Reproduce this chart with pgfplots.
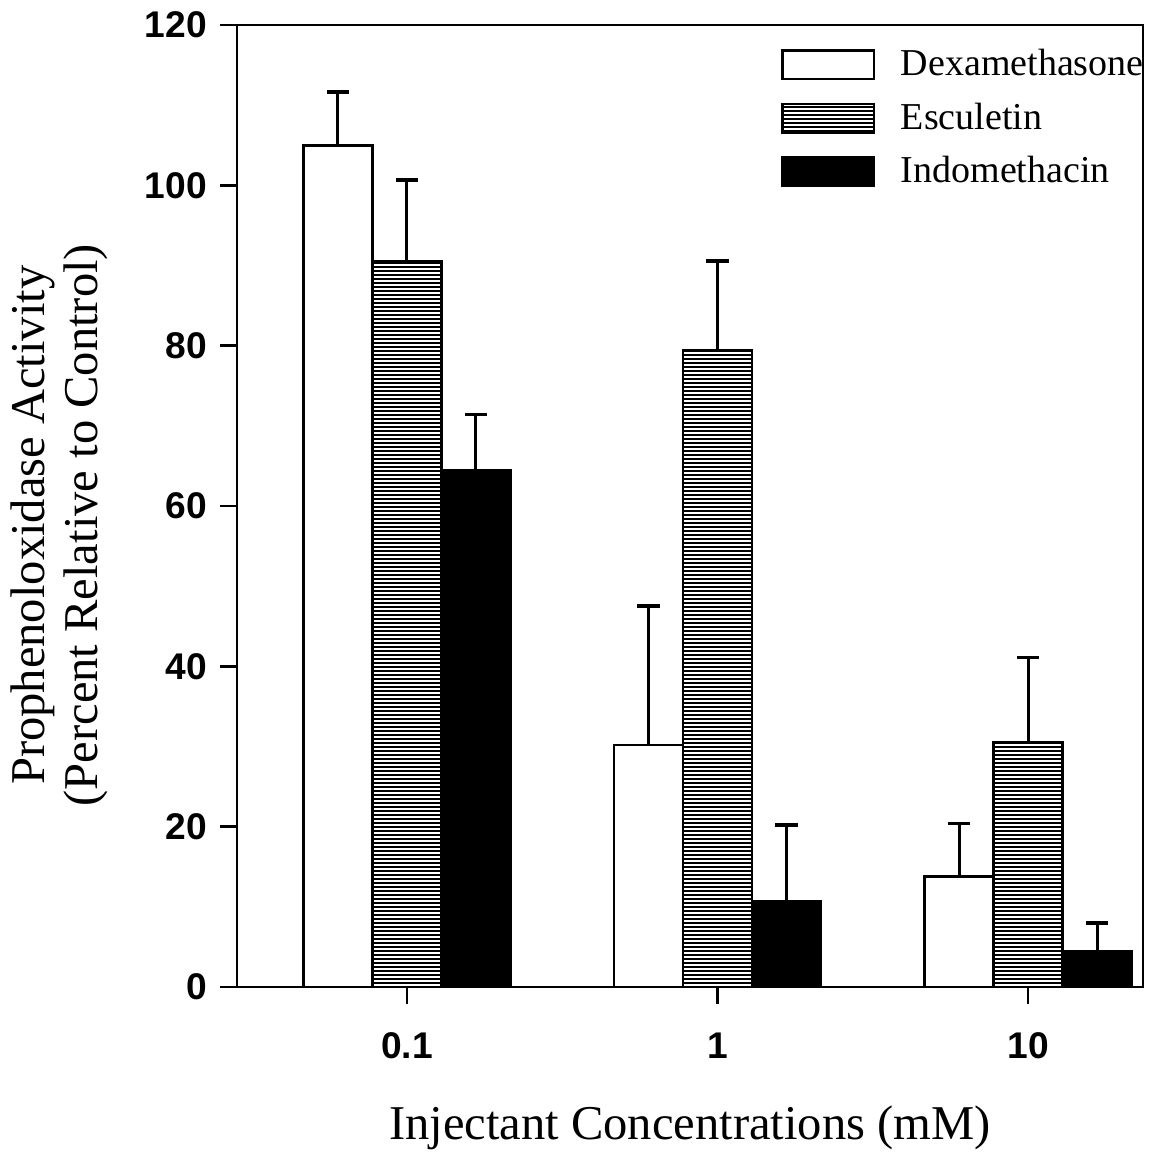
\documentclass[border=0pt]{standalone}
\usepackage{pgfplots}
\pgfplotsset{compat=1.18}
\usepackage{fontspec}
\setmainfont{Liberation Serif}
\setsansfont{Liberation Sans}
\usetikzlibrary{patterns}
\pgfdeclarepatternformonly{densehlines}{\pgfpoint{-1pt}{0pt}}{\pgfpoint{5pt}{1.4pt}}{\pgfpoint{4pt}{1.4pt}}{%
  \pgfsetlinewidth{0.65pt}%
  \pgfpathmoveto{\pgfpoint{-1pt}{0.7pt}}%
  \pgfpathlineto{\pgfpoint{5pt}{0.7pt}}%
  \pgfusepath{stroke}}
\pgfplotstableread{
x  dex  dexe  esc  esce  ind  inde
0  105.0 6.6  90.5 10.2 64.5 6.9
1  30.2  17.3 79.4 11.2 10.7 9.5
2  13.8  6.6  30.5 10.6 4.4  3.6
}\datatable
\begin{document}
\begin{tikzpicture}
\useasboundingbox (-82.95pt,-58.1pt) rectangle (326.55pt,345.45pt);
\begin{axis}[
  at={(0,0)}, anchor=south west,
  scale only axis,
  width=317.1pt, height=336.7pt,
  xmin=-0.547, xmax=2.37,
  ymin=0, ymax=120,
  ytick={0,20,...,120},
  xtick={0,1,2},
  xticklabels={0.1,1,10},
  xtick pos=lower, ytick pos=left,
  tick align=outside,
  major tick length=6pt,
  tick style={line width=0.9pt, black},
  axis line style={line width=0.9pt},
  tick label style={font=\sffamily\bfseries\fontsize{13}{15}\selectfont},
  /pgf/number format/assume math mode=true,
  xticklabel style={yshift=-6.5pt},
  yticklabel style={xshift=-1pt},
  ybar=0pt,
  bar width=24.15pt,
  xlabel={Injectant Concentrations (mM)},
  xlabel style={font=\fontsize{17}{20}\selectfont, at={(axis description cs:0.5,-0.146)}, anchor=center},
  ylabel={Prophenoloxidase Activity\\(Percent Relative to Control)},
  ylabel style={font=\fontsize{17}{18.5}\selectfont, align=center, at={(axis description cs:-0.196,0.48)}, anchor=center},
  legend style={at={(0.6,0.981)}, anchor=north west, draw=none, fill=none,
    font=\fontsize{13.3}{15}\selectfont, row sep=4pt, inner sep=0pt,
    /tikz/every odd column/.append style={column sep=7pt}},
  legend cell align=left,
  legend image code/.code={\draw[#1, line width=0.9pt] (0pt,-5pt) rectangle (32pt,5pt);},
  error bars/y dir=plus,
  error bars/y explicit,
  error bars/error bar style={line width=1pt, black},
  error bars/error mark options={rotate=90, mark size=3.9pt, line width=1.3pt, black},
]
\addplot[draw=black, fill=white, line width=0.9pt] table[x=x, y=dex, y error=dexe] {\datatable};
\addplot[draw=black, pattern=densehlines, line width=0.9pt] table[x=x, y=esc, y error=esce] {\datatable};
\addplot[draw=black, fill=black, line width=0.9pt] table[x=x, y=ind, y error=inde] {\datatable};
\legend{Dexamethasone, Esculetin, Indomethacin}
\end{axis}
\end{tikzpicture}
\end{document}
